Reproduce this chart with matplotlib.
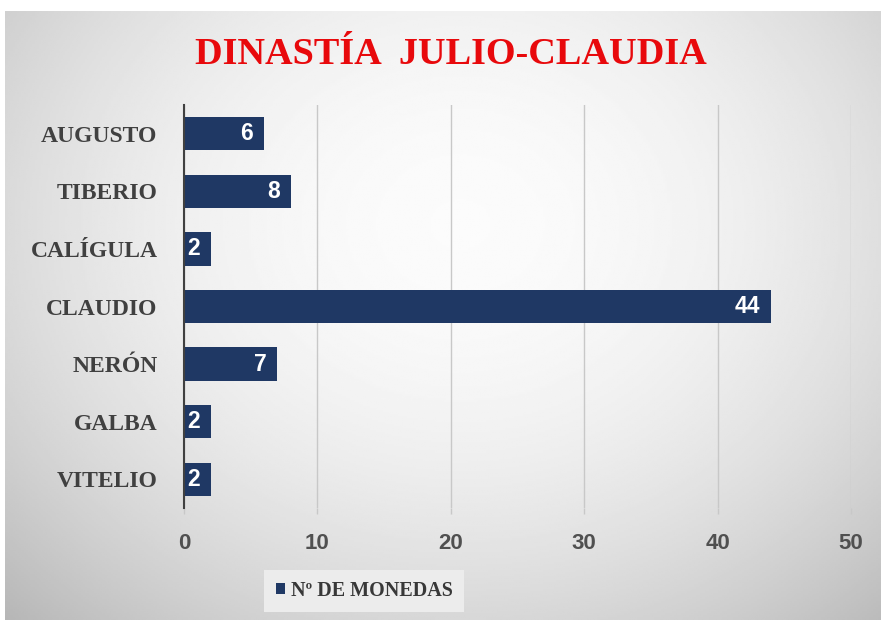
import numpy as np
import matplotlib
matplotlib.use("Agg")
import matplotlib.pyplot as plt

emperors = ["AUGUSTO", "TIBERIO", "CALÍGULA", "CLAUDIO", "NERÓN", "GALBA", "VITELIO"]
coins = [6, 8, 2, 44, 7, 2, 2]
x_ticks = [0, 10, 20, 30, 40, 50]
series_name = "Nº DE MONEDAS"
title = "DINASTÍA  JULIO-CLAUDIA"

bar_color = "#1f3864"
W, H = 881, 620
fig = plt.figure(figsize=(W / 100, H / 100), dpi=100)
fig.patch.set_facecolor("white")

# radial grey background like the Excel chart area
bg = fig.add_axes([5 / W, 0, 1 - 5 / W, 609 / H], zorder=-5)
yy, xx = np.mgrid[0:1:300j, 0:1:400j]
r2 = ((xx - 0.52) / 0.75) ** 2 + ((yy - 0.35) / 0.9) ** 2
grad = np.clip(0.985 - 0.27 * r2, 0, 1)
bg.imshow(grad, cmap="gray", vmin=0, vmax=1, aspect="auto", extent=(0, 1, 1, 0))
bg.axis("off")

ax = fig.add_axes([184 / W, 1 - 508 / H, (851 - 184) / W, (508 - 105) / H])
ax.set_facecolor("none")

y = np.arange(len(emperors))
bars = ax.barh(y, coins, height=0.58, color=bar_color, zorder=3, label=series_name)
ax.set_ylim(len(emperors) - 0.5, -0.5)
ax.set_xlim(0, 50)
ax.set_yticks(y)
ax.set_yticklabels(emperors, family="Liberation Serif", fontweight="bold",
                   fontsize=17, color="#404040")
ax.set_xticks(x_ticks)
ax.tick_params(axis="y", length=0, pad=19)
ax.tick_params(axis="x", length=4, color="#c8c8c8", width=1, pad=14)
ax.set_xticklabels([str(t) for t in x_ticks], family="Liberation Sans",
                   fontweight="bold", fontsize=16, color="#505050")
ax.grid(axis="x", color="#c8c8c8", linewidth=1, zorder=0)
for s in ["top", "right", "bottom"]:
    ax.spines[s].set_visible(False)
ax.spines["left"].set_color("#404040")
ax.spines["left"].set_linewidth(1.5)
ax.spines["left"].set_zorder(4)

for b, v in zip(bars, coins):
    ax.annotate(str(v), xy=(v, b.get_y() + b.get_height() / 2),
                xytext=(-8, 0), textcoords="offset points",
                ha="right", va="center", color="white", fontweight="bold",
                family="Liberation Sans", fontsize=16.5, zorder=5)

fig.text(451 / W, 1 - 64 / H, title, ha="center", va="baseline",
         family="Liberation Serif", fontweight="bold", fontsize=27.5, color="#e8090c")

leg = fig.legend(handles=[bars], labels=[series_name], loc="center",
                 bbox_to_anchor=(364 / W, 1 - 591 / H), frameon=True,
                 fancybox=False, handlelength=0.45, handleheight=0.45,
                 handletextpad=0.3, borderpad=0.55,
                 prop={"family": "Liberation Serif", "weight": "bold", "size": 14.5})
leg.get_frame().set_facecolor("#ececec")
leg.get_frame().set_edgecolor("none")
leg.get_frame().set_alpha(1)
for t in leg.get_texts():
    t.set_color("#383838")

fig.savefig("out.png", dpi=100)
